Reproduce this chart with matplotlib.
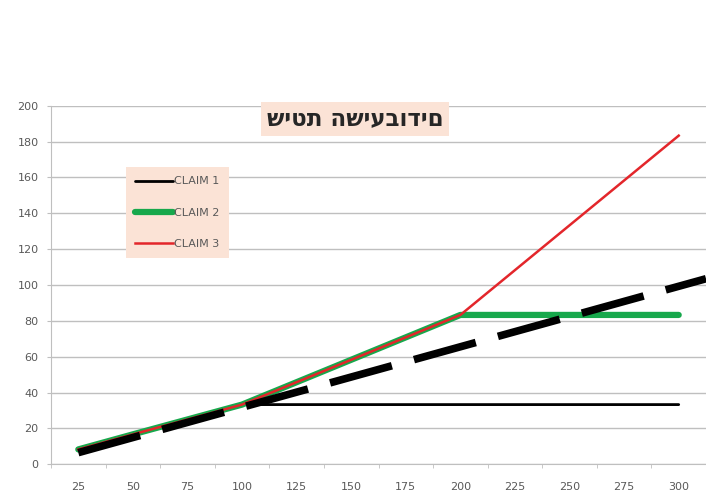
import matplotlib
matplotlib.use("Agg")
from matplotlib import pyplot as plt
import numpy as np

# estate values (category axis) and what each claim gets
estate = [25, 50, 75, 100, 125, 150, 175, 200, 225, 250, 275, 300]
claim1 = [8.3, 16.7, 25, 33.3, 33.3, 33.3, 33.3, 33.3, 33.3, 33.3, 33.3, 33.3]
claim2 = [8.3, 16.7, 25, 33.3, 45.8, 58.3, 70.8, 83.3, 83.3, 83.3, 83.3, 83.3]
claim3 = [8.3, 16.7, 25, 33.3, 45.8, 58.3, 70.8, 83.3, 108.3, 133.3, 158.3, 183.3]
# dashed reference line: category position -> value
dash_pos = [0, 11.5]
dash_val = [6.5, 103.5]

title = "שיטת השיעבודים"
labels = ["CLAIM 1", "CLAIM 2", "CLAIM 3"]

plt.rcParams['font.family'] = ['DejaVu Sans']

fig = plt.figure(figsize=(7.06, 4.95), dpi=100)
ax = fig.add_axes([51 / 706, (495 - 464.3) / 495, 655 / 706, (464.3 - 105.7) / 495])

x = np.arange(len(estate))
ax.plot(x, claim1, color="black", lw=2.0, label=labels[0], solid_capstyle="round")
ax.plot(x, claim2, color="#17a84c", lw=4.5, label=labels[1], solid_capstyle="round")
ax.plot(x, claim3, color="#e3262b", lw=1.8, label=labels[2])
ax.plot(dash_pos, dash_val, color="black", lw=5.5, dashes=(8.4, 3.0),
        dash_capstyle="butt")

ax.set_xlim(-0.5, len(estate) - 0.5)
ax.set_ylim(0, 200)
ax.set_yticks(range(0, 201, 20))
ax.set_xticks(x)
ax.set_xticklabels([str(e) for e in estate])
ax.set_xticks(np.arange(-0.5, len(estate), 1), minor=True)

ax.grid(axis="y", color="#bfbfbf", lw=1.0)
ax.set_axisbelow(True)
for s in ["top", "right"]:
    ax.spines[s].set_visible(False)
ax.spines["left"].set_color("#bfbfbf")
ax.spines["bottom"].set_color("#bfbfbf")

ax.tick_params(axis="x", which="major", length=0, pad=13, labelsize=8, labelcolor="#595959")
ax.tick_params(axis="x", which="minor", length=3, color="#bfbfbf")
ax.tick_params(axis="y", length=3, color="#bfbfbf", pad=6, labelsize=8, labelcolor="#595959")

# the reference shows the title in plain left-to-right character order
ax.text(0.464, 0.963, title, transform=ax.transAxes, ha="center", va="center",
        fontsize=16.5, fontweight="bold", color="#262626",
        bbox=dict(boxstyle="square,pad=0.25", fc="#fbe3d6", ec="none"))

leg = ax.legend(loc="upper left", bbox_to_anchor=((126 - 51) / 655, (464.3 - 167) / 358.6),
                fontsize=8, frameon=True, fancybox=False, facecolor="#fbe3d6",
                edgecolor="none", framealpha=1, handlelength=3.4, handletextpad=0.1,
                labelspacing=1.9, borderpad=0.85, borderaxespad=0)
for t in leg.get_texts():
    t.set_color("#595959")

fig.savefig("out.png", dpi=100)
